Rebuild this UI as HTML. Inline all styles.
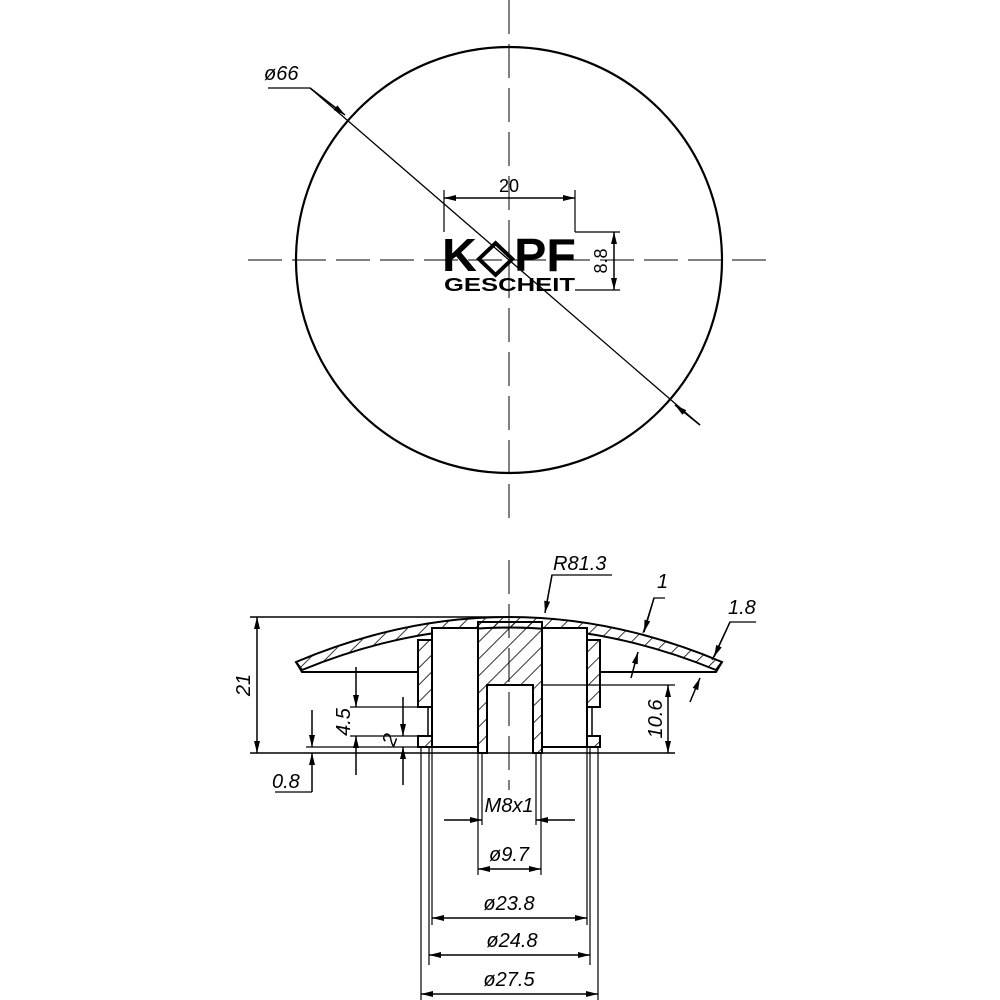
<!DOCTYPE html>
<html><head><meta charset="utf-8"><style>html,body{margin:0;padding:0;background:#fff}svg{display:block}</style></head><body>
<svg width="1000" height="1000" viewBox="0 0 1000 1000" xmlns="http://www.w3.org/2000/svg">
<defs>
<marker id="a" viewBox="0 0 12 6" refX="12" refY="3" markerWidth="12" markerHeight="6" orient="auto-start-reverse" markerUnits="userSpaceOnUse"><path d="M0,0L12,3L0,6z" fill="#000"/></marker>
<pattern id="h" width="12" height="12" patternUnits="userSpaceOnUse" patternTransform="rotate(45)"><line x1="0" y1="0" x2="0" y2="12" stroke="#000" stroke-width="1.6"/></pattern>
</defs>
<g fill="none" stroke="#000" stroke-width="1.5" font-family="Liberation Sans, sans-serif">
<!-- top view -->
<circle cx="509" cy="260" r="213" stroke-width="2.2"/>
<line x1="509" y1="0" x2="509" y2="520" stroke-dasharray="34,10" stroke-width="1"/>
<line x1="248" y1="260" x2="770" y2="260" stroke-dasharray="34,10" stroke-width="1"/>
<polyline points="268,88 310,88 700,425" stroke-width="1.3"/>
<line x1="310" y1="88" x2="345" y2="115" marker-end="url(#a)"/>
<line x1="700" y1="425" x2="675" y2="405" marker-end="url(#a)"/>
<text x="264" y="80" font-size="20" font-style="italic" fill="#000" stroke="none">ø66</text>
<line x1="444" y1="190" x2="444" y2="232" stroke-width="1.2"/>
<line x1="575" y1="190" x2="575" y2="232" stroke-width="1.2"/>
<line x1="444" y1="198" x2="575" y2="198" marker-start="url(#a)" marker-end="url(#a)"/>
<text x="509" y="192" font-size="18" text-anchor="middle" fill="#000" stroke="none">20</text>
<line x1="575" y1="232" x2="620" y2="232" stroke-width="1.2"/>
<line x1="575" y1="290" x2="620" y2="290" stroke-width="1.2"/>
<line x1="614" y1="232" x2="614" y2="290" marker-start="url(#a)" marker-end="url(#a)"/>
<text transform="translate(607,261) rotate(-90)" font-size="18" text-anchor="middle" fill="#000" stroke="none">8.8</text>
<text x="442" y="271" font-size="46" font-weight="bold" fill="#000" stroke="none" textLength="134" lengthAdjust="spacingAndGlyphs">K◇PF</text>
<text x="444" y="291" font-size="18" font-weight="bold" fill="#000" stroke="none" textLength="131" lengthAdjust="spacingAndGlyphs">GESCHEIT</text>
<!-- section -->
<line x1="509" y1="560" x2="509" y2="790" stroke-dasharray="34,10" stroke-width="1"/>
<line x1="250" y1="617" x2="510" y2="617"/>
<line x1="250" y1="753" x2="675" y2="753"/>
<path d="M296,662 Q509,572 722,662 L716,670 Q509,585 302,670 Z" fill="url(#h)" stroke-width="2"/>
<path d="M296,662 L302,672 L418,672 M600,672 L716,672 L722,662" stroke-width="2"/>
<rect x="418" y="640" width="14" height="67" fill="url(#h)" stroke-width="2"/>
<path d="M418,736 L432,736 L432,747 L418,747 Z" fill="url(#h)" stroke-width="2"/>
<rect x="587" y="640" width="13" height="67" fill="url(#h)" stroke-width="2"/>
<path d="M587,736 L600,736 L600,747 L587,747 Z" fill="url(#h)" stroke-width="2"/>
<path d="M478,622 L542,622 L542,753 L533,753 L533,685 L487,685 L487,753 L478,753 Z" fill="url(#h)" stroke-width="2"/>
<rect x="432" y="628" width="46" height="119" fill="#fff" stroke-width="2"/>
<rect x="542" y="628" width="45" height="119" fill="#fff" stroke-width="2"/>
<line x1="487" y1="685" x2="533" y2="685" stroke-width="2"/>
<line x1="418" y1="707" x2="428" y2="707"/><line x1="418" y1="736" x2="428" y2="736"/>
<line x1="428" y1="707" x2="428" y2="736"/>
<line x1="592" y1="707" x2="592" y2="736"/>
<line x1="306" y1="747" x2="432" y2="747" stroke-width="1.2"/>
<line x1="257" y1="617" x2="257" y2="753" marker-start="url(#a)" marker-end="url(#a)"/>
<text transform="translate(250,685) rotate(-90)" font-size="20" font-style="italic" text-anchor="middle" fill="#000" stroke="none">21</text>
<line x1="350" y1="707" x2="418" y2="707" stroke-width="1.2"/>
<line x1="350" y1="736" x2="418" y2="736" stroke-width="1.2"/>
<line x1="356" y1="667" x2="356" y2="707" marker-end="url(#a)"/>
<line x1="356" y1="775" x2="356" y2="736" marker-end="url(#a)"/>
<text transform="translate(350,722) rotate(-90)" font-size="20" font-style="italic" text-anchor="middle" fill="#000" stroke="none">4.5</text>
<line x1="403" y1="697" x2="403" y2="736" marker-end="url(#a)"/>
<line x1="403" y1="785" x2="403" y2="747" marker-end="url(#a)"/>
<text transform="translate(396,742) rotate(-70)" font-size="20" font-style="italic" text-anchor="middle" fill="#000" stroke="none">2</text>
<line x1="312" y1="710" x2="312" y2="747" marker-end="url(#a)"/>
<line x1="312" y1="792" x2="312" y2="753" marker-end="url(#a)"/>
<line x1="275" y1="792" x2="312" y2="792" stroke-width="1.2"/>
<text x="272" y="788" font-size="20" font-style="italic" fill="#000" stroke="none">0.8</text>
<line x1="542" y1="685" x2="675" y2="685" stroke-width="1.2"/>
<line x1="668" y1="685" x2="668" y2="753" marker-start="url(#a)" marker-end="url(#a)"/>
<text transform="translate(662,719) rotate(-90)" font-size="20" font-style="italic" text-anchor="middle" fill="#000" stroke="none">10.6</text>
<polyline points="545,612 552,575 612,575" stroke-width="1.2"/>
<line x1="552" y1="575" x2="545" y2="613" marker-end="url(#a)"/>
<text x="553" y="570" font-size="20" font-style="italic" fill="#000" stroke="none">R81.3</text>
<polyline points="665,598 654,598 643,633" stroke-width="1.2"/>
<line x1="654" y1="598" x2="644" y2="632" marker-end="url(#a)"/>
<line x1="631" y1="678" x2="638" y2="652" marker-end="url(#a)"/>
<text x="657" y="588" font-size="20" font-style="italic" fill="#000" stroke="none">1</text>
<polyline points="756,622 730,622 712,660" stroke-width="1.2"/>
<line x1="730" y1="622" x2="714" y2="657" marker-end="url(#a)"/>
<line x1="690" y1="702" x2="700" y2="678" marker-end="url(#a)"/>
<text x="728" y="614" font-size="20" font-style="italic" fill="#000" stroke="none">1.8</text>
<g stroke-width="1.2">
<line x1="421" y1="747" x2="421" y2="1000"/><line x1="429" y1="747" x2="429" y2="965"/>
<line x1="432" y1="747" x2="432" y2="925"/><line x1="478" y1="753" x2="478" y2="875"/>
<line x1="482" y1="753" x2="482" y2="825"/><line x1="536" y1="753" x2="536" y2="825"/>
<line x1="541" y1="753" x2="541" y2="875"/><line x1="587" y1="747" x2="587" y2="925"/>
<line x1="590" y1="747" x2="590" y2="965"/><line x1="598" y1="747" x2="598" y2="1000"/>
</g>
<line x1="444" y1="820" x2="482" y2="820" marker-end="url(#a)"/>
<line x1="575" y1="820" x2="536" y2="820" marker-end="url(#a)"/>
<text x="509" y="812" font-size="20" font-style="italic" text-anchor="middle" fill="#000" stroke="none">M8x1</text>
<line x1="478" y1="869" x2="541" y2="869" marker-start="url(#a)" marker-end="url(#a)"/>
<text x="509" y="861" font-size="20" font-style="italic" text-anchor="middle" fill="#000" stroke="none">ø9.7</text>
<line x1="432" y1="918" x2="587" y2="918" marker-start="url(#a)" marker-end="url(#a)"/>
<text x="509" y="910" font-size="20" font-style="italic" text-anchor="middle" fill="#000" stroke="none">ø23.8</text>
<line x1="429" y1="955" x2="590" y2="955" marker-start="url(#a)" marker-end="url(#a)"/>
<text x="512" y="947" font-size="20" font-style="italic" text-anchor="middle" fill="#000" stroke="none">ø24.8</text>
<line x1="421" y1="994" x2="598" y2="994" marker-start="url(#a)" marker-end="url(#a)"/>
<text x="509" y="986" font-size="20" font-style="italic" text-anchor="middle" fill="#000" stroke="none">ø27.5</text>
</g>
</svg>
</body></html>
